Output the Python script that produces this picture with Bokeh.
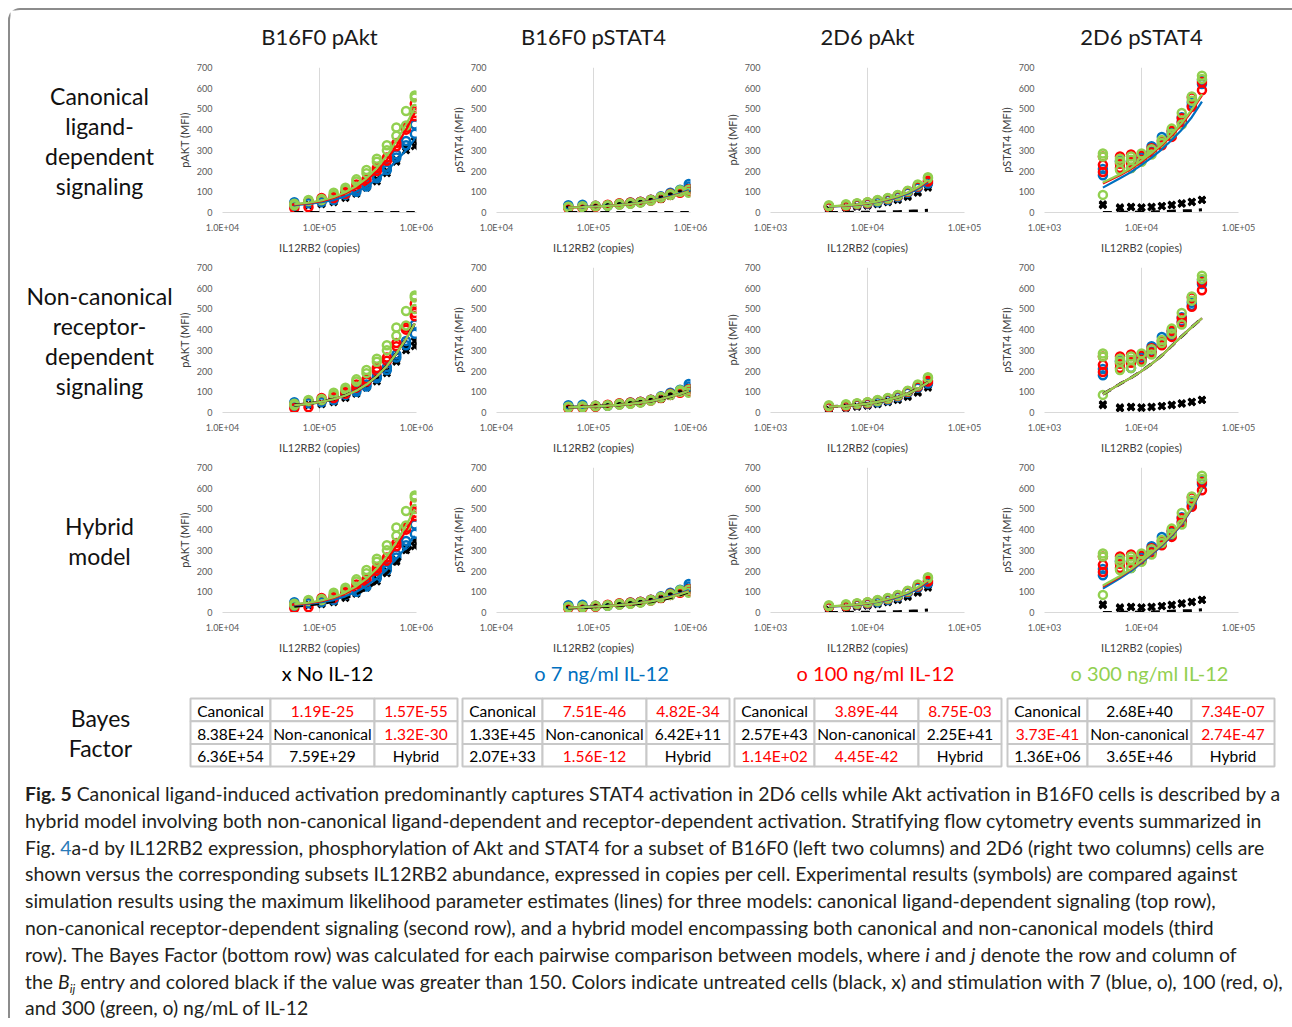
from bokeh.plotting import figure
from bokeh.layouts import column, row
from bokeh.models import Range1d, FixedTicker, Div, ColumnDataSource
from bokeh.core.properties import value
from bokeh.embed import file_html
from bokeh.resources import INLINE

# ---------------- data ----------------
COL_TITLES = ["B16F0 pAkt", "B16F0 pSTAT4", "2D6 pAkt", "2D6 pSTAT4"]
Y_LABELS = ["pAKT (MFI)", "pSTAT4 (MFI)", "pAkt (MFI)", "pSTAT4 (MFI)"]
X_LABEL = "IL12RB2 (copies)"
ROW_LABELS = [["Canonical", "ligand-", "dependent", "signaling"],
              ["Non-canonical", "receptor-", "dependent", "signaling"],
              ["Hybrid", "model"]]
Y_TICKS = [0, 100, 200, 300, 400, 500, 600, 700]
XTICKS_B16 = [10000, 100000, 1000000]
XTICKLABELS_B16 = ["1.0E+04", "1.0E+05", "1.0E+06"]
XTICKS_2D6 = [1000, 10000, 100000]
XTICKLABELS_2D6 = ["1.0E+03", "1.0E+04", "1.0E+05"]

LEGEND_LABELS = ["x No IL-12", "o 7 ng/ml IL-12", "o 100 ng/ml IL-12", "o 300 ng/ml IL-12"]
COND_COLORS = ["#000000", "#0070C0", "#FF0000", "#92D050"]

# IL12RB2 bins (copies)
X_B16 = [55000, 77000, 105000, 140000, 185000, 240000, 305000, 390000, 495000, 620000, 780000, 960000]
X_2D6 = [4000, 6000, 7800, 10000, 12700, 16200, 20500, 26000, 33000, 42000]

# experimental replicates: B16F0 pAkt
B16_AKT_NONE = [[30, 25], [40, 35], [45, 40], [55, 50], [75, 70], [95, 90], [120, 130], [150, 160], [190, 200], [245, 255], [300, 315], [320, 345]]
B16_AKT_7 = [[50, 30], [55, 45], [50, 55], [60, 65], [85, 90], [100, 110], [125, 135], [165, 175], [205, 220], [265, 280], [325, 345], [380, 425]]
B16_AKT_100 = [[40, 20], [25, 55], [60, 70], [70, 80], [90, 100], [120, 135], [150, 160], [200, 215], [250, 265], [320, 335], [400, 410], [465, 480, 525]]
B16_AKT_300 = [[42, 35], [55, 60], [65, 60], [85, 95], [110, 120], [150, 160], [190, 205], [245, 260], [300, 325], [370, 410], [420, 490], [500, 555, 565]]
# B16F0 pSTAT4
B16_STAT_NONE = [[25, 22], [25, 28], [28, 30], [32, 35], [38, 40], [42, 45], [48, 50], [55, 60], [65, 70], [80, 88], [95, 100], [110, 120]]
B16_STAT_7 = [[30, 35], [28, 38], [30, 32], [35, 33], [40, 42], [45, 48], [50, 52], [60, 62], [75, 78], [90, 95], [105, 110], [125, 138]]
B16_STAT_100 = [[25, 20], [22, 28], [28, 32], [35, 38], [40, 45], [45, 48], [50, 52], [58, 62], [70, 75], [85, 90], [95, 100], [100, 112]]
B16_STAT_300 = [[25, 28], [25, 30], [30, 32], [32, 35], [38, 42], [42, 46], [48, 50], [58, 60], [72, 75], [85, 88], [100, 108], [95, 110]]
# 2D6 pAkt
D6_AKT_NONE = [[15, 12], [22, 25], [28, 30], [33, 35], [40, 45], [50, 55], [60, 65], [75, 80], [95, 100], [120, 130]]
D6_AKT_7 = [[25, 30], [30, 35], [38, 40], [42, 45], [50, 55], [60, 65], [75, 80], [95, 100], [120, 125], [140, 145]]
D6_AKT_100 = [[30, 25], [35, 30], [40, 42], [45, 48], [55, 58], [65, 68], [80, 82], [100, 102], [130, 125], [155, 150]]
D6_AKT_300 = [[35, 30], [40, 35], [42, 45], [48, 50], [55, 60], [68, 70], [82, 85], [102, 105], [135, 130], [170, 165]]
# 2D6 pSTAT4
D6_STAT_NONE = [[40, 35], [25, 20], [28, 25], [25, 22], [28, 25], [32, 30], [38, 35], [45, 42], [52, 50], [62, 60]]
D6_STAT_7 = [[180, 210], [245, 250], [215, 250], [265, 250], [320, 295], [365, 330], [390, 375], [460, 440], [515, 530], [640, 620]]
D6_STAT_100 = [[270, 230, 195], [270, 235, 215], [280, 245, 240], [275, 255], [310, 290], [345, 325], [395, 365], [455, 435], [555, 510], [630, 590]]
D6_STAT_300 = [[285, 270, 85], [260, 245, 205], [270, 255, 215], [285, 245], [305, 280], [350, 335], [405, 380], [480, 425], [560, 540], [660, 645]]

# model fits (lines): [none, 7, 100, 300] for rows canonical / non-canonical / hybrid
B16_AKT_FIT = [
    [[0, 0, 0, 0, 0, 0, 0, 0, 0, 0, 0, 0],
     [35, 42, 50, 60, 78, 100, 125, 160, 200, 250, 300, 355],
     [38, 45, 55, 70, 92, 120, 155, 200, 255, 320, 400, 480],
     [40, 48, 58, 75, 98, 128, 165, 215, 275, 345, 425, 505]],
    [[35, 42, 52, 64, 82, 105, 135, 175, 225, 285, 355, 430],
     [35, 42, 52, 64, 82, 105, 135, 175, 225, 285, 355, 430],
     [35, 42, 52, 64, 82, 105, 135, 175, 225, 285, 355, 430],
     [35, 42, 52, 64, 82, 105, 135, 175, 225, 285, 355, 430]],
    [[30, 36, 43, 54, 70, 90, 115, 148, 190, 240, 290, 330],
     [35, 42, 50, 60, 78, 100, 128, 165, 208, 260, 315, 370],
     [38, 45, 55, 70, 92, 120, 155, 200, 255, 320, 395, 470],
     [40, 48, 58, 74, 97, 127, 163, 212, 272, 340, 420, 500]],
]
B16_STAT_FIT = [
    [[0, 0, 0, 0, 0, 0, 0, 0, 0, 0, 0, 0],
     [25, 27, 30, 33, 37, 42, 48, 56, 66, 78, 92, 108],
     [24, 26, 29, 32, 36, 41, 47, 55, 64, 76, 89, 104],
     [24, 26, 29, 32, 36, 41, 47, 54, 63, 75, 88, 102]],
    [[25, 27, 30, 33, 37, 42, 48, 55, 65, 77, 90, 105],
     [25, 27, 30, 33, 37, 42, 48, 55, 65, 77, 90, 105],
     [25, 27, 30, 33, 37, 42, 48, 55, 65, 77, 90, 105],
     [25, 27, 30, 33, 37, 42, 48, 55, 65, 77, 90, 105]],
    [[22, 24, 27, 30, 34, 39, 45, 52, 61, 72, 85, 100],
     [25, 27, 30, 33, 37, 42, 48, 56, 66, 78, 92, 108],
     [24, 26, 29, 32, 36, 41, 47, 55, 64, 76, 89, 104],
     [24, 26, 29, 32, 36, 41, 47, 54, 63, 75, 88, 102]],
]
D6_AKT_FIT = [
    [[0, 0, 1, 1, 2, 3, 4, 6, 8, 11],
     [28, 32, 37, 43, 51, 61, 74, 91, 114, 145],
     [29, 33, 38, 44, 53, 63, 77, 95, 119, 152],
     [30, 34, 39, 45, 54, 65, 79, 97, 122, 156]],
    [[28, 32, 37, 43, 51, 61, 74, 91, 114, 145],
     [28, 32, 37, 43, 51, 61, 74, 91, 114, 145],
     [28, 32, 37, 43, 51, 61, 74, 91, 114, 145],
     [28, 32, 37, 43, 51, 61, 74, 91, 114, 145]],
    [[0, 0, 1, 1, 2, 3, 4, 6, 8, 12],
     [28, 32, 37, 43, 51, 61, 74, 91, 114, 145],
     [29, 33, 38, 44, 53, 63, 77, 95, 119, 152],
     [30, 34, 39, 45, 54, 65, 79, 97, 122, 156]],
]
D6_STAT_FIT = [
    [[0, 1, 1, 2, 3, 4, 6, 8, 10, 13],
     [120, 165, 195, 230, 265, 305, 350, 400, 460, 535],
     [140, 180, 210, 245, 282, 325, 372, 425, 490, 565],
     [145, 185, 215, 250, 288, 330, 378, 432, 497, 572]],
    [[88, 138, 168, 200, 235, 275, 322, 368, 412, 455],
     [88, 138, 168, 200, 235, 275, 322, 368, 412, 455],
     [88, 138, 168, 200, 235, 275, 322, 368, 412, 455],
     [88, 138, 168, 200, 235, 275, 322, 368, 412, 455]],
    [[0, 1, 1, 2, 3, 4, 6, 8, 10, 13],
     [115, 165, 200, 240, 280, 322, 370, 425, 500, 595],
     [125, 172, 207, 245, 285, 327, 375, 430, 505, 600],
     [130, 176, 210, 248, 288, 330, 378, 433, 508, 603]],
]

# Bayes factor tables (B_ij)
BF_B16_AKT = [["Canonical", "1.19E-25", "1.57E-55"], ["8.38E+24", "Non-canonical", "1.32E-30"], ["6.36E+54", "7.59E+29", "Hybrid"]]
BF_B16_STAT = [["Canonical", "7.51E-46", "4.82E-34"], ["1.33E+45", "Non-canonical", "6.42E+11"], ["2.07E+33", "1.56E-12", "Hybrid"]]
BF_D6_AKT = [["Canonical", "3.89E-44", "8.75E-03"], ["2.57E+43", "Non-canonical", "2.25E+41"], ["1.14E+02", "4.45E-42", "Hybrid"]]
BF_D6_STAT = [["Canonical", "2.68E+40", "7.34E-07"], ["3.73E-41", "Non-canonical", "2.74E-47"], ["1.36E+06", "3.65E+46", "Hybrid"]]
BF_THRESHOLD = 150

PANELS = [
    (X_B16, XTICKS_B16, XTICKLABELS_B16, [B16_AKT_NONE, B16_AKT_7, B16_AKT_100, B16_AKT_300], B16_AKT_FIT),
    (X_B16, XTICKS_B16, XTICKLABELS_B16, [B16_STAT_NONE, B16_STAT_7, B16_STAT_100, B16_STAT_300], B16_STAT_FIT),
    (X_2D6, XTICKS_2D6, XTICKLABELS_2D6, [D6_AKT_NONE, D6_AKT_7, D6_AKT_100, D6_AKT_300], D6_AKT_FIT),
    (X_2D6, XTICKS_2D6, XTICKLABELS_2D6, [D6_STAT_NONE, D6_STAT_7, D6_STAT_100, D6_STAT_300], D6_STAT_FIT),
]
TABLES = [BF_B16_AKT, BF_B16_STAT, BF_D6_AKT, BF_D6_STAT]

# ---------------- layout constants ----------------
PAGE_X0, PAGE_Y0 = 10, 10          # content origin (after 8px margin + 2px frame)
PAGE_W = 1276
HEADER_H = 46
LEFT_W = 162
COL_W = [272, 274, 274, 274]
MBL = [50, 52, 52, 52]
MBR = 28
SUB_H = 200
MBT = 11
MBB = 44
BOTTOM_H = 120
CAPTION_H = 232
CHART_FONT = "Lato"
AX_COLOR = "#595959"
GRID_COLOR = "#d9d9d9"

col_left = [PAGE_X0 + LEFT_W]
for w in COL_W[:-1]:
    col_left.append(col_left[-1] + w)
col_centres = [col_left[i] + MBL[i] + (COL_W[i] - MBL[i] - MBR) / 2 for i in range(4)]
row_top0 = PAGE_Y0 + HEADER_H
row_centres = [row_top0 + r * SUB_H + MBT + (SUB_H - MBT - MBB) / 2 for r in range(3)]


def blank(w, h, x0, y0):
    p = figure(width=w, height=h, x_range=Range1d(x0, x0 + w), y_range=Range1d(y0 + h, y0),
               output_backend="svg", toolbar_location=None, min_border=0,
               x_axis_location=None, y_axis_location=None)
    p.grid.visible = False
    p.outline_line_color = None
    return p


def flat(xs, reps):
    X, Y = [], []
    for x, r in zip(xs, reps):
        for v in r:
            X.append(x)
            Y.append(v)
    return X, Y


def panel(ci, ri):
    xs, xt, xtl, conds, fits = PANELS[ci]
    p = figure(width=COL_W[ci], height=SUB_H, x_axis_type="log",
               x_range=Range1d(xt[0], xt[-1]), y_range=Range1d(0, 700),
               output_backend="svg", toolbar_location=None,
               min_border_left=MBL[ci], min_border_right=MBR,
               min_border_top=MBT, min_border_bottom=MBB)
    p.outline_line_color = None
    p.xaxis.ticker = FixedTicker(ticks=xt)
    p.xaxis.major_label_overrides = dict(zip(xt, xtl))
    p.xaxis.axis_label = X_LABEL
    p.yaxis.ticker = FixedTicker(ticks=Y_TICKS)
    p.yaxis.axis_label = Y_LABELS[ci]
    for ax in (p.xaxis[0], p.yaxis[0]):
        ax.major_tick_line_color = None
        ax.minor_tick_line_color = None
        ax.major_tick_out = 0
        ax.major_tick_in = 0
        ax.minor_tick_out = 0
        ax.minor_tick_in = 0
        ax.major_label_text_font = CHART_FONT
        ax.major_label_text_font_size = "9px"
        ax.major_label_text_color = AX_COLOR
        ax.axis_label_text_font = CHART_FONT
        ax.axis_label_text_font_size = "11px"
        ax.axis_label_text_font_style = "normal"
        ax.axis_label_text_color = "#404040"
    p.yaxis.axis_line_color = None
    p.yaxis.major_label_standoff = 10
    p.yaxis.axis_label_standoff = 3
    p.xaxis.axis_line_color = GRID_COLOR
    p.xaxis.major_label_standoff = 9
    p.xaxis.axis_label_standoff = 5
    p.xgrid.grid_line_color = GRID_COLOR
    p.ygrid.grid_line_color = None

    for k, reps in enumerate(conds):
        X, Y = flat(xs, reps)
        src = ColumnDataSource(dict(x=X, y=Y))
        if k == 0:
            p.scatter("x", "y", source=src, marker="x", size=9, line_width=3, color=COND_COLORS[k])
        else:
            p.scatter("x", "y", source=src, marker="circle", size=8, line_width=2.5,
                      line_color=COND_COLORS[k], fill_color=None)
    for k, ys in enumerate(fits[ri]):
        if k == 0:
            p.line(xs, ys, color="black", line_width=3, line_dash="9 7")
        else:
            p.line(xs, ys, color=COND_COLORS[k], line_width=2.2)
    return p


header = blank(PAGE_W, HEADER_H, PAGE_X0, PAGE_Y0)
header.text(x=col_centres, y=[36] * 4, text=COL_TITLES, text_font=value(CHART_FONT),
            text_font_size="22px", text_align="center", text_baseline="middle", text_color="#1a1a1a")

left = blank(LEFT_W, 3 * SUB_H, PAGE_X0, row_top0)
lx, ly, lt = [], [], []
for r, lines in enumerate(ROW_LABELS):
    n = len(lines)
    for i, t in enumerate(lines):
        lx.append(99)
        ly.append(row_centres[r] + 1 + (i - (n - 1) / 2) * 30)
        lt.append(t)
left.text(x=lx, y=ly, text=lt, text_font=value(CHART_FONT), text_font_size="23px",
          text_align="center", text_baseline="middle", text_color="#111111")

grid_rows = []
for ri in range(3):
    grid_rows.append(row(*[panel(ci, ri) for ci in range(4)], spacing=0))
middle = row(left, column(*grid_rows, spacing=0), spacing=0)

bottom_y0 = row_top0 + 3 * SUB_H
bottom = blank(PAGE_W, BOTTOM_H, PAGE_X0, bottom_y0)
bottom.text(x=[c + 8 for c in col_centres], y=[672] * 4, text=LEGEND_LABELS, text_color=COND_COLORS,
            text_font=value(CHART_FONT), text_font_size="20px", text_align="center", text_baseline="middle")
bottom.text(x=[100, 100], y=[717, 747], text=["Bayes", "Factor"], text_font=value(CHART_FONT),
            text_font_size="23px", text_align="center", text_baseline="middle", text_color="#111111")

TABLE_LEFTS = [190, 462, 734, 1007]
CELL_W = [80, 104, 83]
TABLE_TOP = 698
CELL_H = 22.7
rx, ry, rw, tx, ty, tt, tc = [], [], [], [], [], [], []
for t, tab in enumerate(TABLES):
    for i in range(3):
        for j in range(3):
            cx = TABLE_LEFTS[t] + sum(CELL_W[:j]) + CELL_W[j] / 2
            cy = TABLE_TOP + i * CELL_H + CELL_H / 2
            rx.append(cx); ry.append(cy); rw.append(CELL_W[j])
            s = tab[i][j]
            try:
                col = "#FF0000" if float(s) < BF_THRESHOLD else "#000000"
            except ValueError:
                col = "#000000"
            tx.append(cx); ty.append(cy + 1); tt.append(s); tc.append(col)
bottom.rect(x=rx, y=ry, width=rw, height=CELL_H, fill_color="white", line_color="#c8c8c8", line_width=2)
bottom.text(x=tx, y=ty, text=tt, text_color=tc, text_font=value(CHART_FONT), text_font_size="15.5px",
            text_align="center", text_baseline="middle")

SUB = "<sub style='font-size:12px;line-height:0;vertical-align:baseline;position:relative;top:4px'>ij</sub>"
CAPTION_LINES = [
    "<b>Fig. 5</b> Canonical ligand-induced activation predominantly captures STAT4 activation in 2D6 cells while Akt activation in B16F0 cells is described by a",
    "hybrid model involving both non-canonical ligand-dependent and receptor-dependent activation. Stratifying flow cytometry events summarized in",
    "Fig. <span style='color:#2a7ab9'>4</span>a-d by IL12RB2 expression, phosphorylation of Akt and STAT4 for a subset of B16F0 (left two columns) and 2D6 (right two columns) cells are",
    "shown versus the corresponding subsets IL12RB2 abundance, expressed in copies per cell. Experimental results (symbols) are compared against",
    "simulation results using the maximum likelihood parameter estimates (lines) for three models: canonical ligand-dependent signaling (top row),",
    "non-canonical receptor-dependent signaling (second row), and a hybrid model encompassing both canonical and non-canonical models (third",
    "row). The Bayes Factor (bottom row) was calculated for each pairwise comparison between models, where <i>i</i> and <i>j</i> denote the row and column of",
    "the <i>B" + SUB + "</i> entry and colored black if the value was greater than 150. Colors indicate untreated cells (black, x) and stimulation with 7 (blue, o), 100 (red, o),",
    "and 300 (green, o) ng/mL of IL-12",
]
caption_html = ("<div style=\"font-family:Lato,'Open Sans',sans-serif;font-size:19.4px;line-height:26.8px;"
                "color:#231f20;white-space:nowrap;padding:0 0 0 10px;\">"
                + "<br>".join(CAPTION_LINES) + "</div>")
caption = Div(text=caption_html, width=PAGE_W, height=CAPTION_H)

layout = column(header, middle, bottom, caption, spacing=0,
                styles={"margin-left": "8px", "margin-top": "8px",
                        "border-left": "2px solid #8c8c8c", "border-top": "2px solid #8c8c8c",
                        "border-top-left-radius": "12px"})

open("out.html", "w").write(file_html(layout, INLINE))
